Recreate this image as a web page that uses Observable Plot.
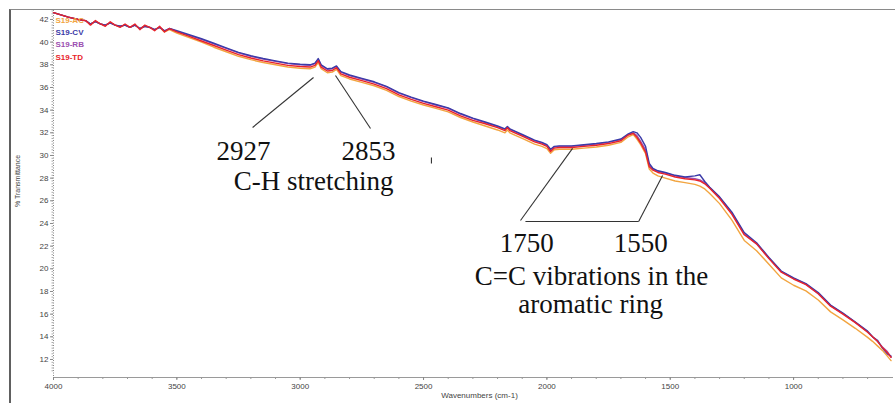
<!DOCTYPE html>
<html><head><meta charset="utf-8">
<script src="https://cdn.jsdelivr.net/npm/d3@7"></script>
<script src="https://cdn.jsdelivr.net/npm/@observablehq/plot@0.6"></script>
<style>
html,body{margin:0;padding:0;background:#fff;}
#wrap{position:relative;width:895px;height:403px;overflow:hidden;}
#frame{position:absolute;left:9px;top:9px;width:900px;height:400px;border-left:2px solid #606060;border-top:1.5px solid #8a8a8a;pointer-events:none;}
</style></head>
<body><div id="wrap"><div id="frame"></div></div>
<script>
// Wavenumbers (cm-1)
const wn = [4000,3970,3940,3900,3870,3850,3830,3810,3790,3770,
  3750,3730,3710,3690,3670,3650,3630,3610,3590,3570,
  3550,3530,3500,3450,3400,3350,3300,3250,3200,3150,
  3100,3050,3000,2960,2940,2927,2915,2890,2870,2853,
  2835,2800,2750,2700,2650,2600,2550,2500,2450,2400,
  2350,2300,2250,2200,2170,2160,2150,2130,2100,2050,
  2020,2000,1985,1970,1950,1900,1850,1800,1750,1700,
  1670,1650,1635,1620,1600,1585,1570,1550,1520,1480,
  1440,1400,1380,1360,1340,1300,1250,1200,1150,1100,
  1050,1000,950,900,850,800,750,700,680,660,
  640,620,605];
// % Transmittance per sample
const ac = [42.6,42.4,42.2,42.0,41.9,41.6,41.8,41.6,41.5,41.7,
  41.5,41.4,41.5,41.3,41.5,41.2,41.4,41.3,41.1,41.3,
  40.9,41.1,40.8,40.4,40.0,39.55,39.15,38.75,38.45,38.2,
  38.0,37.8,37.7,37.65,37.8,38.2,37.65,37.3,37.35,37.6,
  37.05,36.75,36.45,36.15,35.75,35.2,34.8,34.45,34.15,33.85,
  33.35,32.95,32.6,32.25,32.0,32.25,32.0,31.8,31.5,31.0,
  30.8,30.6,30.2,30.5,30.55,30.55,30.65,30.75,30.9,31.15,
  31.65,31.85,31.45,30.95,30.15,28.8,28.45,28.2,28.0,27.75,
  27.6,27.45,27.3,27.05,26.65,25.75,24.3,22.5,21.6,20.4,
  19.2,18.55,18.05,17.25,16.2,15.5,14.75,13.95,13.6,13.2,
  12.8,12.3,11.9];
const cv = [42.6,42.4,42.2,42.0,41.9,41.6,41.8,41.6,41.5,41.7,
  41.5,41.4,41.5,41.3,41.5,41.2,41.4,41.3,41.1,41.3,
  41.0,41.2,41.0,40.65,40.3,39.9,39.5,39.1,38.8,38.55,
  38.35,38.15,38.05,38.0,38.15,38.55,38.0,37.65,37.7,37.9,
  37.4,37.1,36.8,36.5,36.1,35.55,35.15,34.8,34.5,34.2,
  33.7,33.3,32.95,32.6,32.35,32.55,32.35,32.15,31.85,31.35,
  31.15,30.95,30.55,30.8,30.85,30.85,30.95,31.05,31.2,31.45,
  31.9,32.1,32.0,31.6,30.8,29.3,28.85,28.65,28.5,28.25,
  28.1,28.2,28.3,27.7,27.2,26.35,25.0,23.2,22.3,21.0,
  19.8,19.2,18.7,17.9,16.8,16.1,15.3,14.5,14.0,13.7,
  13.0,12.5,12.3];
const rb = [42.6,42.4,42.2,42.0,41.9,41.6,41.8,41.6,41.5,41.7,
  41.5,41.4,41.5,41.3,41.5,41.2,41.4,41.3,41.1,41.3,
  41.0,41.2,40.95,40.6,40.25,39.85,39.45,39.05,38.75,38.5,
  38.3,38.1,38.0,37.95,38.1,38.5,37.95,37.6,37.65,37.85,
  37.35,37.05,36.75,36.45,36.05,35.5,35.1,34.75,34.45,34.15,
  33.65,33.25,32.9,32.55,32.3,32.5,32.3,32.1,31.8,31.3,
  31.1,30.9,30.5,30.75,30.8,30.8,30.9,31.0,31.15,31.4,
  31.85,32.0,31.75,31.25,30.5,29.15,28.8,28.6,28.45,28.2,
  28.05,27.95,27.85,27.6,27.15,26.3,24.9,23.1,22.2,20.95,
  19.75,19.15,18.65,17.8,16.75,16.05,15.3,14.45,14.0,13.6,
  13.1,12.7,12.2];
const td = [42.6,42.4,42.2,42.0,41.9,41.5,41.9,41.6,41.4,41.8,
  41.5,41.3,41.6,41.3,41.6,41.1,41.5,41.3,41.0,41.4,
  40.9,41.2,40.9,40.5,40.1,39.7,39.3,38.9,38.6,38.35,
  38.15,37.95,37.85,37.8,37.95,38.35,37.8,37.45,37.5,37.75,
  37.2,36.9,36.6,36.3,35.9,35.35,34.95,34.6,34.3,34.0,
  33.5,33.1,32.8,32.45,32.2,32.45,32.2,32.0,31.7,31.2,
  31.0,30.8,30.35,30.65,30.7,30.7,30.8,30.9,31.05,31.3,
  31.8,31.95,31.6,31.1,30.3,29.0,28.7,28.5,28.35,28.1,
  27.95,27.85,27.75,27.5,27.1,26.2,24.8,23.0,22.2,20.9,
  19.7,19.1,18.6,17.8,16.7,16.0,15.25,14.4,14.0,13.6,
  13.05,12.6,12.2];

const seriesNames = ["S19-AC", "S19-CV", "S19-RB", "S19-TD"];
const seriesColors = ["#f2a540", "#3b3ba8", "#9b4fb0", "#e8232b"];
const seriesValues = [ac, cv, rb, td];
const drawOrder = [0, 2, 1, 3];

const yTicks = d3.range(12, 43, 2);
const xTicks = [4000, 3500, 3000, 2500, 2000, 1500, 1000];
const xMinor = d3.range(700, 4001, 100);
const yMinor = d3.range(11, 42.8, 0.25);

// Annotation data (in wavenumber / %T units)
const annSegments = [
  {x1: 3193, y1: 32.47, x2: 2946, y2: 36.88},
  {x1: 2715, y1: 32.38, x2: 2857, y2: 37.06},
  {x1: 2107, y1: 24.26, x2: 1896, y2: 30.62},
  {x1: 1628, y1: 24.18, x2: 1531, y2: 28.24},
  {x1: 2087, y1: 24.18, x2: 1628, y2: 24.18},
  {x1: 2468, y1: 29.82, x2: 2468, y2: 29.29}
];
const annTexts = [
  {x: 3230, y: 29.56, t: "2927"},
  {x: 2723, y: 29.56, t: "2853"},
  {x: 2946, y: 26.91, t: "C-H stretching"},
  {x: 2082, y: 21.44, t: "1750"},
  {x: 1620, y: 21.44, t: "1550"},
  {x: 1819, y: 18.53, t: "C=C vibrations in the"},
  {x: 1823, y: 16.06, t: "aromatic ring"}
];
const legendY = [41.91, 40.85, 39.79, 38.65];
const legendX = 3992;

const lineMarks = drawOrder.map(i =>
  Plot.line(wn.map((w, k) => ({w, v: seriesValues[i][k]})),
    {x: "w", y: "v", stroke: seriesColors[i], strokeWidth: 1.4, curve: "linear"})
);

const chart = Plot.plot({
  width: 895,
  height: 403,
  marginLeft: 53,
  marginTop: 10,
  marginRight: 2,
  marginBottom: 26,
  style: {fontFamily: "Liberation Sans, Arial, sans-serif", background: "transparent", overflow: "visible"},
  x: {domain: [4000, 595], axis: null},
  y: {domain: [10.41, 42.79], axis: null},
  marks: [
    Plot.ruleY([10.41], {stroke: "#9a9a9a", strokeWidth: 1}),
    Plot.ruleX([4000], {stroke: "#888", strokeWidth: 1, strokeDasharray: "1,1.5"}),
    Plot.axisX(xMinor, {tickSize: 2, text: null, stroke: "#999"}),
    Plot.axisX(xTicks, {tickSize: 3, tickPadding: 3, fontSize: 8, fill: "#444", stroke: "#888", label: null, tickFormat: d => String(d)}),
    Plot.axisY(yMinor, {tickSize: 1.5, text: null, stroke: "#aaa"}),
    Plot.axisY(yTicks, {tickSize: 3, tickPadding: 2, fontSize: 8, fill: "#444", stroke: "#888", label: null, tickFormat: d => String(d)}),
    Plot.text(["% Transmittance"], {frameAnchor: "left", textAnchor: "middle", rotate: -90, dx: -36, dy: -13, fontSize: 7, fill: "#444"}),
    Plot.text(["Wavenumbers (cm-1)"], {frameAnchor: "bottom", dx: 6, dy: 20, fontSize: 8, fill: "#444"}),
    ...lineMarks,
    Plot.text(seriesNames, {x: () => legendX, y: (d, i) => legendY[i], fill: (d, i) => seriesColors[i], textAnchor: "start", fontSize: 8, fontWeight: "bold"}),
    Plot.link(annSegments, {x1: "x1", y1: "y1", x2: "x2", y2: "y2", stroke: "#333", strokeWidth: 1.1}),
    Plot.text(annTexts, {x: "x", y: "y", text: "t", textAnchor: "middle", lineAnchor: "middle", dy: -9, fontSize: 27, fill: "#111", fontFamily: "Liberation Serif, Times New Roman, serif"})
  ]
});
chart.style.position = "absolute";
chart.style.left = "0px";
chart.style.top = "0px";
document.getElementById("wrap").appendChild(chart);
</script>
</body></html>
